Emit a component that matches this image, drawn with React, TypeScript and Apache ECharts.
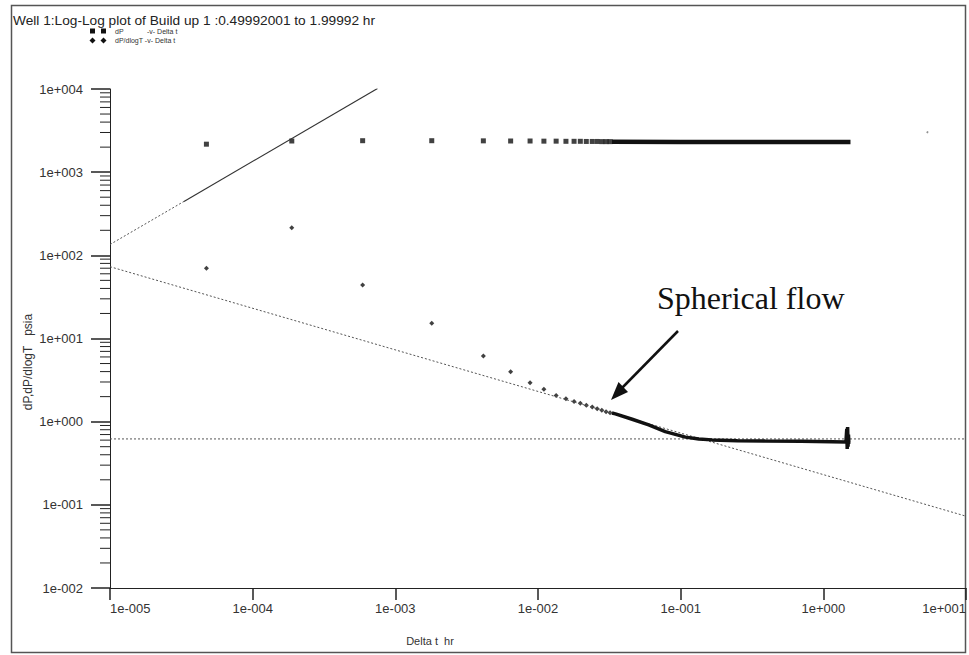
import React, { useEffect, useRef } from "react";
import * as echarts from "echarts";

// ---- Data ----
const xTickLabels = ["1e-005", "1e-004", "1e-003", "1e-002", "1e-001", "1e+000", "1e+001"];
const yTickLabels = ["1e-002", "1e-001", "1e+000", "1e+001", "1e+002", "1e+003", "1e+004"];
const xExpMin = -5;
const yExpMin = -2;

// Early (discrete) samples, shared time stamps (hr)
const dtSparse = [4.74e-5, 1.88e-4, 5.9e-4, 1.8e-3, 4.14e-3, 6.43e-3, 8.8e-3, 1.1e-2, 1.34e-2, 1.57e-2, 1.79e-2, 1.98e-2, 2.18e-2, 2.4e-2, 2.6e-2, 2.8e-2, 3.0e-2, 3.2e-2];
const dPSparse = [2170, 2370, 2390, 2390, 2380, 2370, 2370, 2360, 2360, 2350, 2350, 2350, 2340, 2340, 2340, 2330, 2330, 2330];
const dPdSparse = [70, 215, 44, 15.3, 6.18, 3.97, 2.93, 2.46, 2.06, 1.88, 1.75, 1.67, 1.58, 1.5, 1.43, 1.37, 1.32, 1.28];

// Dense late-time records (drawn as a thick trace)
const dtDenseP = [3.3e-2, 0.1, 0.5, 1.0, 1.55];
const dPDense = [2320, 2310, 2300, 2300, 2300];
const dtDenseD = [3.3e-2, 3.49e-2, 4.57e-2, 5.97e-2, 7.8e-2, 0.108, 0.134, 0.166, 0.25, 0.391, 0.7, 1.14, 1.44, 1.46, 1.47, 1.48, 1.49, 1.5, 1.51, 1.53];
const dPdDense = [1.27, 1.24, 1.07, 0.916, 0.76, 0.652, 0.62, 0.604, 0.59, 0.585, 0.58, 0.575, 0.57, 0.82, 0.47, 0.86, 0.5, 0.7, 0.56, 0.57];

// Straight-line interpretations
const unitSlopeX = [1e-5, 3.3e-5, 7.5e-4];
const unitSlopeY = [135, 445, 10125];
const sphericalX = [1e-5, 10];
const sphericalY = [73, 0.073];
const radialX = [1e-5, 10];
const radialY = [0.62, 0.62];

const strayX = [5.36];
const strayY = [3020];

const minorMultipliers = [2, 3, 4, 5, 6, 7, 8, 9];
const minorDecades = [1e-2, 1e-1, 1, 10, 100, 1000];

const fmtTick = (labels: string[], expMin: number) => (v: number) => {
  const e = Math.round(Math.log10(v));
  return labels[e - expMin] ?? "";
};

const zip = (xs: number[], ys: number[]) => xs.map((x, i) => [x, ys[i]]);

export default function App() {
  const ref = useRef<HTMLDivElement>(null);
  useEffect(() => {
    if (!ref.current) return;
    const chart = echarts.init(ref.current, null, { renderer: "svg" });
    const minorTicks: number[][] = [];
    minorDecades.forEach((d) => minorMultipliers.forEach((m) => minorTicks.push([1e-5, d * m])));
    const dotted = { color: "#555", width: 1, type: [2, 2] as any };
    const font = "Liberation Sans";
    chart.setOption({
      animation: false,
      backgroundColor: "#fff",
      grid: { left: 110, right: 1, top: 89, bottom: 67 },
      xAxis: {
        type: "log",
        logBase: 10,
        min: 1e-5,
        max: 10,
        axisLine: { lineStyle: { color: "#222", width: 1 } },
        axisTick: { show: true, length: 12, lineStyle: { color: "#222", width: 1.5 } },
        minorTick: { show: false },
        splitLine: { show: false },
        axisLabel: {
          formatter: fmtTick(xTickLabels, xExpMin),
          color: "#333",
          fontSize: 13,
          fontFamily: font,
          margin: 14,
          alignMinLabel: "left",
          alignMaxLabel: "right",
        },
      },
      yAxis: {
        type: "log",
        logBase: 10,
        min: 1e-2,
        max: 1e4,
        axisLine: { show: true, lineStyle: { color: "#222", width: 1 } },
        axisTick: { show: true, length: 19, lineStyle: { color: "#222", width: 1.5 } },
        splitLine: { show: false },
        axisLabel: {
          formatter: fmtTick(yTickLabels, yExpMin),
          color: "#333",
          fontSize: 13,
          fontFamily: font,
          margin: 27,
        },
      },
      series: [
        {
          type: "custom",
          clip: false,
          silent: true,
          data: minorTicks,
          renderItem: (params: any, api: any) => {
            const p = api.coord([api.value(0), api.value(1)]);
            return {
              type: "line",
              shape: { x1: p[0] - 10, y1: p[1], x2: p[0], y2: p[1] },
              style: { stroke: "#222", lineWidth: 1 },
            };
          },
        },
        { type: "line", data: zip(unitSlopeX.slice(0, 2), unitSlopeY.slice(0, 2)), showSymbol: false, lineStyle: dotted },
        { type: "line", data: zip(unitSlopeX.slice(1), unitSlopeY.slice(1)), showSymbol: false, lineStyle: { color: "#333", width: 1.2 } },
        { type: "line", data: zip(sphericalX, sphericalY), showSymbol: false, lineStyle: dotted },
        { type: "line", data: zip(radialX, radialY), showSymbol: false, lineStyle: dotted },
        { type: "line", data: zip(dtDenseP, dPDense), showSymbol: false, lineStyle: { color: "#111", width: 4.5 } },
        { type: "line", data: zip(dtDenseD, dPdDense), showSymbol: false, lineStyle: { color: "#111", width: 3.5 } },
        { type: "scatter", data: zip(dtSparse, dPSparse), symbol: "rect", symbolSize: 5, itemStyle: { color: "#111" } },
        { type: "scatter", data: zip(dtSparse, dPdSparse), symbol: "diamond", symbolSize: 5, itemStyle: { color: "#111" } },
        { type: "scatter", data: zip(strayX, strayY), symbol: "circle", symbolSize: 2, itemStyle: { color: "#777" } },
      ],
      graphic: [
        { type: "rect", shape: { x: 11.5, y: 5.5, width: 954, height: 647 }, style: { fill: "none", stroke: "#555", lineWidth: 1.5 }, z: 0 },
        { type: "text", x: 13, y: 20, style: { text: "Well 1:Log-Log plot of Build up 1 :0.49992001 to 1.99992 hr", font: `13.7px '${font}'`, fill: "#222", verticalAlign: "middle" } },
        { type: "rect", shape: { x: 90, y: 28.5, width: 5, height: 5 }, style: { fill: "#111" } },
        { type: "rect", shape: { x: 101, y: 28.5, width: 5, height: 5 }, style: { fill: "#111" } },
        { type: "polygon", shape: { points: [[92.5, 37.5], [95.5, 40.5], [92.5, 43.5], [89.5, 40.5]] }, style: { fill: "#111" } },
        { type: "polygon", shape: { points: [[103.5, 37.5], [106.5, 40.5], [103.5, 43.5], [100.5, 40.5]] }, style: { fill: "#111" } },
        { type: "text", x: 115, y: 31, style: { text: "dP", font: `7px '${font}'`, fill: "#333", verticalAlign: "middle" } },
        { type: "text", x: 147, y: 31, style: { text: "-v- Delta t", font: `7px '${font}'`, fill: "#333", verticalAlign: "middle" } },
        { type: "text", x: 115, y: 40.5, style: { text: "dP/dlogT -v- Delta t", font: `7px '${font}'`, fill: "#333", verticalAlign: "middle" } },
        { type: "text", x: 430, y: 641, style: { text: "Delta t  hr", font: `11px '${font}'`, fill: "#333", align: "center", verticalAlign: "middle" } },
        { type: "text", x: 28, y: 362, rotation: Math.PI / 2, style: { text: "dP,dP/dlogT   psia", font: `12px '${font}'`, fill: "#333", align: "center", verticalAlign: "middle" } },
        { type: "text", x: 657, y: 298, style: { text: "Spherical flow", font: `32px 'Liberation Serif'`, fill: "#111", verticalAlign: "middle" } },
        { type: "line", shape: { x1: 678, y1: 331, x2: 621, y2: 389 }, style: { stroke: "#111", lineWidth: 2.5 } },
        { type: "polygon", shape: { points: [[611, 400], [628, 392], [618.5, 382]] }, style: { fill: "#111" } },
      ],
    });
    return () => chart.dispose();
  }, []);
  return <div ref={ref} style={{ position: "absolute", left: 0, top: 0, width: 969, height: 655 }} />;
}
